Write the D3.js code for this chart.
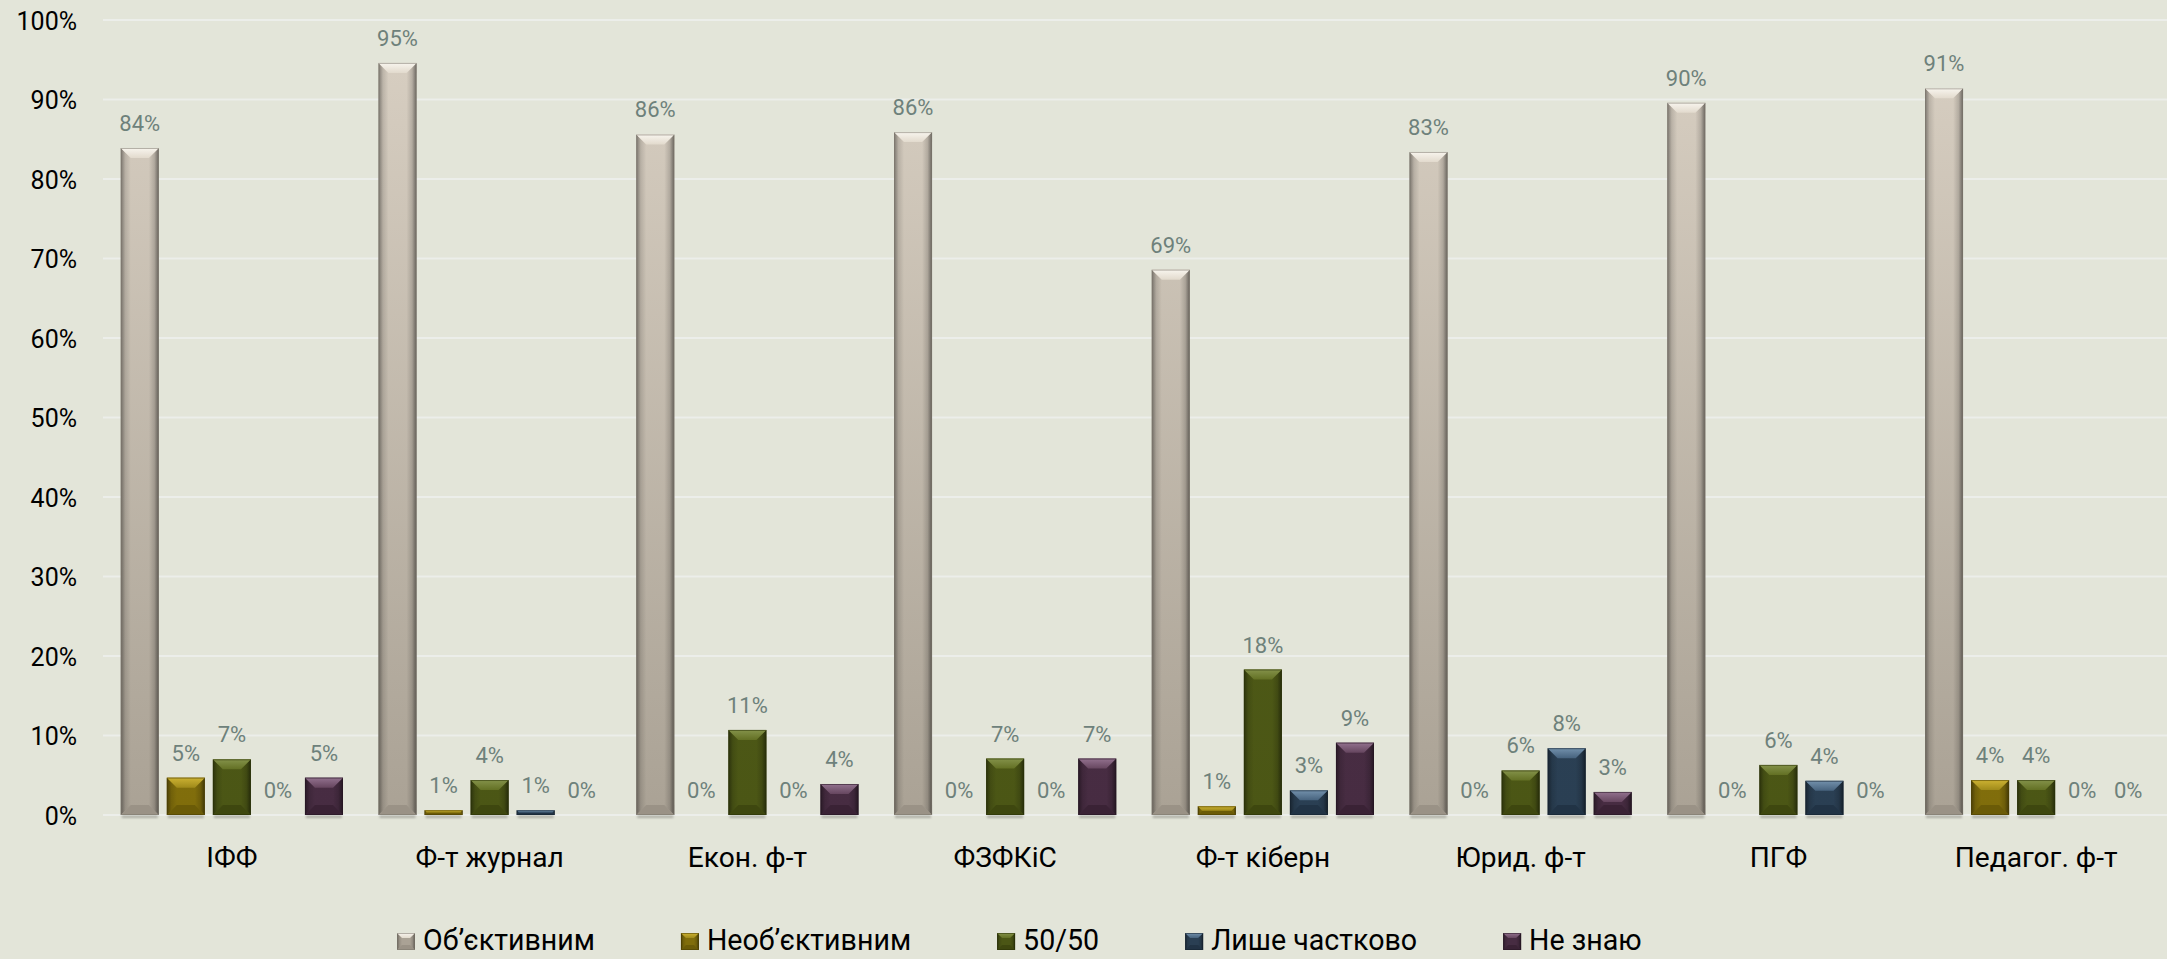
<!DOCTYPE html>
<html>
<head>
<meta charset="utf-8">
<script src="https://cdn.jsdelivr.net/npm/d3@7/dist/d3.min.js"></script>
<style>
  html, body { margin: 0; padding: 0; background: #E3E5D9; }
  svg { display: block; }
</style>
</head>
<body>
<svg id="chart" width="2167" height="959"></svg>
<script>
// ---------------- DATA ----------------
const categories = ["ІФФ", "Ф-т журнал", "Екон. ф-т", "ФЗФКіС", "Ф-т кіберн", "Юрид. ф-т", "ПГФ", "Педагог. ф-т"];
const seriesNames = ["Об’єктивним", "Необ’єктивним", "50/50", "Лише частково", "Не знаю"];
const objective    = [83.9, 94.6, 85.6, 85.9, 68.6, 83.4, 89.6, 91.4];
const nonObjective = [4.7, 0.6, 0, 0, 1.1, 0, 0, 4.4];
const fiftyFifty   = [7.0, 4.4, 10.7, 7.1, 18.3, 5.6, 6.3, 4.4];
const partially    = [0, 0.6, 0, 0, 3.1, 8.4, 4.3, 0];
const dontKnow     = [4.7, 0, 3.9, 7.1, 9.1, 2.9, 0, 0];
const yTicks = [0, 10, 20, 30, 40, 50, 60, 70, 80, 90, 100];

const seriesValues = [objective, nonObjective, fiftyFifty, partially, dontKnow];

// ---------------- STYLE ----------------
const FONT = "Roboto, 'Noto Sans', sans-serif";
const palettes = [
  { bodyTop: "#D9D0C3", bodyBot: "#AAA295", top: "#F8F5EE", topEnd: "#E2DACD", bottom: "#8C857A", edge: "#7E786E" },
  { bodyTop: "#8A770F", bodyBot: "#806D0B", top: "#CDB232", topEnd: "#9F8A1A", bottom: "#5A4C05", edge: "#4A3E04" },
  { bodyTop: "#53601A", bodyBot: "#4B5615", top: "#84924A", topEnd: "#637024", bottom: "#343D0B", edge: "#2A3108" },
  { bodyTop: "#2F465B", bodyBot: "#2A3F53", top: "#7391AC", topEnd: "#46627D", bottom: "#19293A", edge: "#15222F" },
  { bodyTop: "#4E3249", bodyBot: "#472C42", top: "#93728F", topEnd: "#66465F", bottom: "#2F1B2C", edge: "#261623" }
];

const W = 2167, H = 959;
const svg = d3.select("#chart");
svg.append("rect").attr("width", W).attr("height", H).attr("fill", "#E3E5D9");

const defs = svg.append("defs");

// scales
const plotLeft = 103, plotRight = 2165;
const y = d3.scaleLinear().domain([0, 100]).range([815, 20]);
const x0 = d3.scaleBand().domain(categories).range([plotLeft, plotRight]).paddingInner(0).paddingOuter(0);
const innerPad = 17.75;
const x1 = d3.scaleBand().domain(seriesNames).range([innerPad, x0.bandwidth() - innerPad]).paddingInner(8 / 46).paddingOuter(0);

// gradients
palettes.forEach((p, i) => {
  const gb = defs.append("linearGradient").attr("id", "body" + i)
    .attr("gradientUnits", "userSpaceOnUse").attr("x1", 0).attr("x2", 0).attr("y1", y(100)).attr("y2", y(0));
  gb.append("stop").attr("offset", 0).attr("stop-color", p.bodyTop);
  gb.append("stop").attr("offset", 1).attr("stop-color", p.bodyBot);
  const gt = defs.append("linearGradient").attr("id", "top" + i).attr("x1", 0).attr("x2", 0).attr("y1", 0).attr("y2", 1);
  gt.append("stop").attr("offset", 0).attr("stop-color", p.top);
  gt.append("stop").attr("offset", 1).attr("stop-color", p.topEnd);
});
const gl = defs.append("linearGradient").attr("id", "sideL").attr("x1", 0).attr("x2", 1).attr("y1", 0).attr("y2", 0);
gl.append("stop").attr("offset", 0).attr("stop-color", "#000").attr("stop-opacity", 0.42);
gl.append("stop").attr("offset", 0.45).attr("stop-color", "#000").attr("stop-opacity", 0.12);
gl.append("stop").attr("offset", 1).attr("stop-color", "#000").attr("stop-opacity", 0.0);
const gr = defs.append("linearGradient").attr("id", "sideR").attr("x1", 1).attr("x2", 0).attr("y1", 0).attr("y2", 0);
gr.append("stop").attr("offset", 0).attr("stop-color", "#000").attr("stop-opacity", 0.5);
gr.append("stop").attr("offset", 0.45).attr("stop-color", "#000").attr("stop-opacity", 0.15);
gr.append("stop").attr("offset", 1).attr("stop-color", "#000").attr("stop-opacity", 0.0);
defs.append("filter").attr("id", "shadowBlur").attr("x", "-20%").attr("y", "-200%").attr("width", "140%").attr("height", "500%")
  .append("feGaussianBlur").attr("stdDeviation", 1.2);

// gridlines
svg.append("g").attr("class", "grid")
  .selectAll("line").data(yTicks).join("line")
  .attr("x1", plotLeft).attr("x2", W)
  .attr("y1", d => y(d)).attr("y2", d => y(d))
  .attr("stroke", "#ECEEEA").attr("stroke-width", 2.2);

// y axis
const yAxis = d3.axisLeft(y).tickValues(yTicks).tickSize(0).tickPadding(0).tickFormat(d => d + "%");
const gy = svg.append("g").attr("transform", "translate(77,0)").call(yAxis);
gy.select(".domain").remove();
gy.selectAll("text").attr("font-family", FONT).attr("font-size", 25).attr("fill", "#000").attr("dy", "0.36em");

// font fit helper
function fitSize(text, target) {
  const t = svg.append("text").attr("font-family", FONT).attr("font-size", 100).text(text);
  const w = t.node().getComputedTextLength();
  t.remove();
  return 100 * target / w;
}

// x axis (category labels)
const catSize = (fitSize("Ф-т журнал", 151) + fitSize("Педагог. ф-т", 160)) / 2;
const xAxis = d3.axisBottom(x0).tickSize(0).tickPadding(0);
const gx = svg.append("g").attr("transform", `translate(0,${y(0)})`).call(xAxis);
gx.select(".domain").remove();
gx.selectAll("text").attr("font-family", FONT).attr("font-size", catSize).attr("fill", "#000")
  .attr("dy", 0).attr("y", 866.5 - y(0));

// bevel bar drawing
function bevelBar(g, x, yTop, w, h, pi, bMax) {
  if (h <= 0) return;
  const p = palettes[pi];
  const b = Math.min(bMax, h / 2, w / 2);
  const pts = a => a.map(q => q.join(",")).join(" ");
  g.append("rect").attr("x", x).attr("y", yTop).attr("width", w).attr("height", h).attr("fill", `url(#body${pi})`);
  g.append("polygon").attr("points", pts([[x, yTop], [x + b, yTop + b], [x + b, yTop + h - b], [x, yTop + h]])).attr("fill", "url(#sideL)");
  g.append("polygon").attr("points", pts([[x + w, yTop], [x + w - b, yTop + b], [x + w - b, yTop + h - b], [x + w, yTop + h]])).attr("fill", "url(#sideR)");
  g.append("polygon").attr("points", pts([[x, yTop + h], [x + b, yTop + h - b], [x + w - b, yTop + h - b], [x + w, yTop + h]])).attr("fill", p.bottom).attr("opacity", 0.55);
  g.append("polygon").attr("points", pts([[x, yTop], [x + w, yTop], [x + w - b, yTop + b], [x + b, yTop + b]])).attr("fill", `url(#top${pi})`);
  g.append("rect").attr("x", x + 0.5).attr("y", yTop + 0.5).attr("width", Math.max(0, w - 1)).attr("height", Math.max(0, h - 1))
    .attr("fill", "none").attr("stroke", p.edge).attr("stroke-opacity", 0.55).attr("stroke-width", 1);
}

// bars
const barData = [];
categories.forEach((c, ci) => {
  seriesNames.forEach((s, si) => {
    barData.push({ cat: c, series: s, si, value: seriesValues[si][ci] });
  });
});

const shadowG = svg.append("g").attr("class", "shadows");
shadowG.selectAll("rect").data(barData.filter(d => d.value > 0)).join("rect")
  .attr("x", d => x0(d.cat) + x1(d.series) + 1)
  .attr("y", y(0) + 0.5)
  .attr("width", x1.bandwidth() - 2)
  .attr("height", 2.5)
  .attr("fill", "#9C9D95")
  .attr("opacity", 0.8)
  .attr("filter", "url(#shadowBlur)");

const barsG = svg.append("g").attr("class", "bars");
barData.forEach(d => {
  const g = barsG.append("g");
  bevelBar(g, x0(d.cat) + x1(d.series), y(d.value), x1.bandwidth(), y(0) - y(d.value), d.si, 10);
});

// data labels
svg.append("g").attr("class", "labels")
  .selectAll("text").data(barData).join("text")
  .attr("x", d => x0(d.cat) + x1(d.series) + x1.bandwidth() / 2)
  .attr("y", d => y(d.value) - 17)
  .attr("text-anchor", "middle")
  .attr("font-family", FONT).attr("font-size", 22)
  .attr("fill", "#6E817B")
  .text(d => Math.round(d.value) + "%");

// legend
const legSize = fitSize("Об’єктивним", 172);
const legend = svg.append("g").attr("class", "legend");
let lx = 397;
const legBase = 950;
seriesNames.forEach((s, si) => {
  const g = legend.append("g");
  bevelBar(g, lx, legBase - 17, 18, 17, si, 5);
  const t = g.append("text").attr("x", lx + 26).attr("y", legBase)
    .attr("font-family", FONT).attr("font-size", legSize).attr("fill", "#000").text(s);
  lx = lx + 26 + t.node().getComputedTextLength() + 86;
});
</script>
</body>
</html>
